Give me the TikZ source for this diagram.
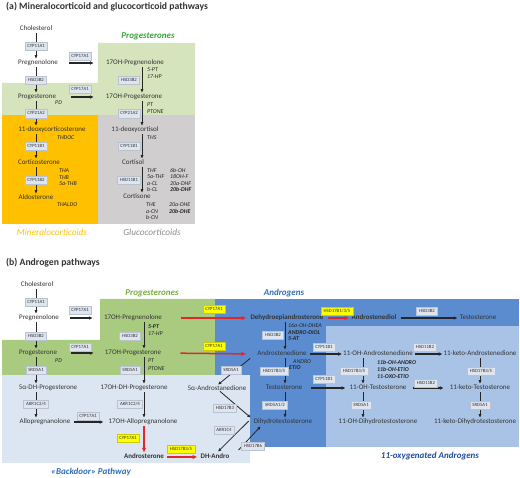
\documentclass[tikz,border=0pt]{standalone}
\usepackage{fontspec}
\setmainfont{Carlito}
\usetikzlibrary{arrows.meta}
\definecolor{txt}{HTML}{333333}
\definecolor{txtd}{HTML}{262626}
\definecolor{ln}{HTML}{262626}
\definecolor{enzf}{HTML}{DFE5EF}
\definecolor{enzd}{HTML}{B9C2D0}
\definecolor{greenA}{HTML}{D6E4BE}
\definecolor{orangeA}{HTML}{FFC000}
\definecolor{grayA}{HTML}{D0CECE}
\definecolor{greenB}{HTML}{A9CB80}
\definecolor{blueM}{HTML}{5B8CCF}
\definecolor{blueL}{HTML}{A8C3E6}
\definecolor{blueVL}{HTML}{DCE6F2}
\definecolor{redc}{HTML}{E0282A}
\definecolor{yel}{HTML}{FFFF00}
\definecolor{ttl}{HTML}{333333}
\definecolor{grnA}{HTML}{3BA33B}
\definecolor{grnB}{HTML}{77AE3F}
\definecolor{orangeT}{HTML}{FFC000}
\definecolor{grayT}{HTML}{8C8C8C}
\definecolor{blueT}{HTML}{2F6EBA}
\definecolor{blueT2}{HTML}{1F4F99}
\begin{document}
\begin{tikzpicture}[x=1pt,y=-1pt,
  mt/.style={font=\fontsize{7}{8}\selectfont, text=txt, inner sep=1pt, text height=4.9pt, text depth=1.4pt},
  mtb/.style={mt, font=\fontsize{7}{8}\selectfont\bfseries},
  lab/.style={font=\fontsize{5.9}{6.5}\selectfont\itshape, text=txtd, inner sep=0pt, anchor=west, text height=4.2pt, text depth=0.8pt},
  labb/.style={lab, font=\fontsize{5.9}{6.5}\selectfont\bfseries\itshape},
  enz/.style={font=\fontsize{4.8}{5}\selectfont, text=txt, fill=enzf, draw=enzd, line width=0.3pt, inner xsep=2.6pt, inner ysep=0pt, minimum height=8.5pt, text height=3.5pt, text depth=0.8pt},
  yenz/.style={enz, fill=yel, draw=yel!80!black},
  arr/.style={draw=ln, line width=0.8pt, -{Latex[length=3.4pt,width=3.2pt]}},
  harr/.style={draw=ln, line width=1.2pt, -{Latex[length=3.8pt,width=3.8pt]}},
  rarr/.style={draw=redc, line width=1.5pt, -{Latex[length=4.8pt,width=4.4pt]}},
  ttlsty/.style={font=\fontsize{9.7}{11}\selectfont\bfseries, text=ttl, anchor=west, inner sep=0pt},
  grp/.style={font=\fontsize{9}{10}\selectfont\bfseries\itshape, inner sep=0pt},
  grpi/.style={font=\fontsize{9.3}{10}\selectfont\itshape, inner sep=0pt}
]
\useasboundingbox (0,0) rectangle (520,478);
\fill[white] (0,0) rectangle (520,478);
% ---------- backgrounds (a)
\fill[greenA] (98,43) -- (195,43) -- (195,115) -- (2,115) -- (2,83) -- (98,83) -- cycle;
\fill[orangeA] (2,115) rectangle (98,224);
\fill[grayA] (98,115) rectangle (195,224);
% ---------- backgrounds (b)
\fill[greenB] (100,299) -- (215,299) -- (215,375) -- (2,375) -- (2,340) -- (100,340) -- cycle;
\fill[blueM] (215,299) rectangle (519,447);
\fill[blueL] (326,326) rectangle (519,447);
\fill[blueVL] (2,375) rectangle (250,463);
% columns
\coordinate (cA1) at (36,0);
\coordinate (cA2) at (142,0);
\coordinate (cB1) at (36,0);
\coordinate (cB2) at (144,0);
\coordinate (cB3) at (285,0);
\coordinate (cB4) at (363,0);
\coordinate (cB5) at (480,0);
% ---------- (a) texts
\node[ttlsty] (tA) at (6,6.5) {(a) Mineralocorticoid and glucocorticoid pathways};
\node[grp, text=grnA] (gA1) at (148,36) {Progesterones};
\node[grpi, text=orangeT] (gA2) at (52,232) {Mineralocorticoids};
\node[grpi, text=grayT] (gA3) at (152,232) {Glucocorticoids};
\node[mt] (aChol) at (36,29) {Cholesterol};
\node[mt] (aPreg) at (38,63) {Pregnenolone};
\node[mt] (aProg) at (37,97) {Progesterone};
\node[mt] (aDOC) at (52,130) {11-deoxycorticosterone};
\node[mt] (aCort) at (39,163) {Corticosterone};
\node[mt] (aAldo) at (36,198) {Aldosterone};
\node[mt] (a17Preg) at (135,63) {17OH-Pregnenolone};
\node[mt] (a17Prog) at (134,97) {17OH-Progesterone};
\node[mt] (aDOCol) at (135,130) {11-deoxycortisol};
\node[mt] (aCortisol) at (133,163) {Cortisol};
\node[mt] (aCortisone) at (137,197) {Cortisone};
\node[lab] (l1) at (55,103) {PD};
\node[lab] (l2) at (57,138) {THDOC};
\node[lab] (l3) at (59,171) {THA};
\node[lab] (l4) at (59,177.5) {THB};
\node[lab] (l5) at (59,184) {5a-THB};
\node[lab] (l6) at (57,205) {THALDO};
\node[lab] (l7) at (147,69.5) {5-PT};
\node[lab] (l8) at (147,76.5) {17-HP};
\node[lab] (l9) at (147,104.5) {PT};
\node[lab] (l10) at (147,111.5) {PTONE};
\node[lab] (l11) at (147,138) {THS};
\node[lab] (l12) at (147,171) {THF};
\node[lab] (l13) at (147,177.3) {5a-THF};
\node[lab] (l14) at (147,183.6) {a-CL};
\node[lab] (l15) at (147,190) {b-CL};
\node[lab] (l16) at (170,171) {6b-OH};
\node[lab] (l17) at (170,177.3) {18OH-F};
\node[lab] (l18) at (170,183.6) {20a-DHF};
\node[labb] (l19) at (170,190) {20b-DHF};
\node[lab] (l20) at (146,205) {THE};
\node[lab] (l21) at (146,211.5) {a-CN};
\node[lab] (l22) at (146,218) {b-CN};
\node[lab] (l23) at (169,205) {20a-DHE};
\node[labb] (l24) at (169,211.5) {20b-DHE};
% (a) arrows
\draw[arr] (aChol.south -| cA1) -- (aPreg.north -| cA1);
\draw[arr] (aPreg.south -| cA1) -- (aProg.north -| cA1);
\draw[arr] (aProg.south -| cA1) -- (aDOC.north -| cA1);
\draw[arr] (aDOC.south -| cA1) -- (aCort.north -| cA1);
\draw[arr] (aCort.south -| cA1) -- (aAldo.north -| cA1);
\draw[arr] (a17Preg.south -| cA2) -- (a17Prog.north -| cA2);
\draw[arr] (a17Prog.south -| cA2) -- (aDOCol.north -| cA2);
\draw[arr] (aDOCol.south -| cA2) -- (aCortisol.north -| cA2);
\draw[arr] (aCortisol.south -| cA2) -- (aCortisone.north -| cA2);
\draw[harr, shorten <=10pt, shorten >=11pt] (aPreg.east) -- (a17Preg.west);
\draw[harr, shorten <=14pt, shorten >=11pt] (aProg.east) -- (a17Prog.west);
% (a) enzymes
\node[enz] (eA1) at (36,46) {CYP11A1};
\node[enz] (eA2) at (36,80) {HSD3B2};
\node[enz] (eA3) at (36,113.5) {CYP21A2};
\node[enz] (eA4) at (36,146) {CYP11B1};
\node[enz] (eA5) at (36,180) {CYP11B2};
\node[enz] (eA6) at (80,56) {CYP17A1};
\node[enz] (eA7) at (80,89) {CYP17A1};
\node[enz] (eA8) at (129,80) {HSD3B2};
\node[enz] (eA9) at (129,113.5) {CYP21A2};
\node[enz] (eA10) at (129,146) {CYP11B1};
\node[enz] (eA11) at (129,180) {HSD11B1};
% ---------- (b) texts
\node[ttlsty] (tB) at (6,263) {(b) Androgen pathways};
\node[grp, text=grnB] (gB1) at (152,293) {Progesterones};
\node[grp, text=blueT] (gB2) at (284,293) {Androgens};
\node[grp, text=blueT2] (gB3) at (430,456) {11-oxygenated Androgens};
\node[grp, text=blueT] (gB4) at (91,472) {«Backdoor» Pathway};
\node[mt] (bChol) at (37,285) {Cholesterol};
\node[mt] (bPreg) at (39,318) {Pregnenolone};
\node[mt] (bProg) at (38,353) {Progesterone};
\node[mt] (b5aDHP) at (48,388) {5α-DH-Progesterone};
\node[mt] (bAllo) at (45,422) {Allopregnanolone};
\node[mt] (b17Preg) at (133,318) {17OH-Pregnenolone};
\node[mt] (b17Prog) at (133,353) {17OH-Progesterone};
\node[mt] (b17DHP) at (134,388) {17OH-DH-Progesterone};
\node[mt] (b17Allo) at (143,422) {17OH-Allopregnanolone};
\node[mtb] (bAndrost) at (144,457) {Androsterone};
\node[mtb] (bDHAndro) at (215,457) {DH-Andro};
\node[mt] (b5aAd) at (217,389) {5α-Androstanedione};
\node[mtb] (bDHEA) at (287,318) {Dehydroepiandrosterone};
\node[mtb] (bAdiol) at (374,318) {Androstenediol};
\node[mt] (bTesto1) at (478,318) {Testosterone};
\node[mt] (bAdione) at (282,354) {Androstenedione};
\node[mt] (bTesto) at (284,388) {Testosterone};
\node[mt] (bDHT) at (283,422) {Dihydrotestosterone};
\node[mt] (b11OHA) at (378,354) {11-OH-Androstenedione};
\node[mt] (b11KA) at (480,354) {11-keto-Androstenedione};
\node[mt] (b11OHT) at (378,388) {11-OH-Testosterone};
\node[mt] (b11KT) at (480,388) {11-keto-Testosterone};
\node[mt] (b11OHD) at (378,422) {11-OH-Dihydrotestosterone};
\node[mt] (b11KD) at (475,422) {11-keto-Dihydrotestosterone};
\node[lab] (m1) at (55,361) {PD};
\node[labb] (m2) at (148,327) {5-PT};
\node[lab] (m3) at (148,333.5) {17-HP};
\node[lab] (m4) at (148,361) {PT};
\node[lab] (m5) at (148,368.5) {PTONE};
\node[lab] (m6) at (288,326) {16a-OH-DHEA};
\node[labb] (m7) at (288,332.5) {ANDRO-DIOL};
\node[labb] (m8) at (288,339) {5-AT};
\node[lab] (m9) at (293,361.5) {ANDRO};
\node[labb] (m10) at (289,368) {ETIO};
\node[labb] (m11) at (377,363) {11b-OH-ANDRO};
\node[labb] (m12) at (377,370) {11b-OH-ETIO};
\node[labb] (m13) at (377,377) {11-OXO-ETIO};
% (b) arrows
\draw[arr] (bChol.south -| cB1) -- (bPreg.north -| cB1);
\draw[arr] (bPreg.south -| cB1) -- (bProg.north -| cB1);
\draw[arr] (bProg.south -| cB1) -- (b5aDHP.north -| cB1);
\draw[arr] (b5aDHP.south -| cB1) -- (bAllo.north -| cB1);
\draw[arr] (b17Preg.south -| cB2) -- (b17Prog.north -| cB2);
\draw[arr] (b17Prog.south -| cB2) -- (b17DHP.north -| cB2);
\draw[arr] (b17DHP.south -| cB2) -- (b17Allo.north -| cB2);
\draw[rarr] (b17Allo.south -| cB2) -- (bAndrost.north -| cB2);
\draw[harr, shorten <=10pt, shorten >=10pt] (bPreg.east) -- (b17Preg.west);
\draw[harr, shorten <=13pt, shorten >=10pt] (bProg.east) -- (b17Prog.west);
\draw[harr, shorten <=2pt, shorten >=4pt] (bAllo.east) -- (b17Allo.west);
\draw[rarr, shorten <=18pt, shorten >=3pt] (b17Preg.east) -- (bDHEA.west);
\draw[rarr, shorten <=18pt, shorten >=10pt] (b17Prog.east) -- (bAdione.west);
\draw[rarr, shorten <=2pt, shorten >=2pt] (bAndrost.east) -- (bDHAndro.west);
\draw[rarr, shorten <=3pt, shorten >=1pt] (bDHEA.east) -- (bAdiol.west);
\draw[harr, shorten <=3pt, shorten >=1pt] (bAdiol.east) -- (bTesto1.west);
\draw[arr] (bDHEA.south -| cB3) -- (bAdione.north -| cB3);
\draw[arr] (bAdione.south -| cB3) -- (bTesto.north -| cB3);
\draw[arr] (bTesto.south -| cB3) -- (bDHT.north -| cB3);
\draw[harr, shorten <=2pt, shorten >=0pt] (bAdione.east) -- (b11OHA.west);
\draw[harr, shorten <=1pt, shorten >=0pt] (b11OHA.east) -- (b11KA.west);
\draw[harr, shorten <=8pt, shorten >=3pt] (bTesto.east) -- (b11OHT.west);
\draw[harr, shorten <=5pt, shorten >=5pt] (b11OHT.east) -- (b11KT.west);
\draw[arr] (b11OHA.south -| cB4) -- (b11OHT.north -| cB4);
\draw[arr] (b11OHT.south -| cB4) -- (b11OHD.north -| cB4);
\draw[arr] (b11KA.south -| cB5) -- (b11KT.north -| cB5);
\draw[arr] (b11KT.south -| cB5) -- (b11KD.north -| cB5);
\draw[arr] ([xshift=-6pt]bAdione.south west) -- ([xshift=1pt]b5aAd.north);
\draw[arr] ([xshift=3pt,yshift=2pt]b5aAd.south) -- ([xshift=-2pt]bDHT.north west);
\draw[arr] ([xshift=-4pt,yshift=1pt]bDHT.west) -- ([xshift=3pt,yshift=1pt]bDHAndro.north);
\draw[arr] ([xshift=8pt,yshift=7pt]bDHAndro.east) -- ([xshift=8pt]bDHT.south west);
% (b) enzymes
\node[enz] (eB1) at (36,302) {CYP11A1};
\node[enz] (eB2) at (80,310) {CYP17A1};
\node[enz] (eB3) at (36,336) {HSD3B2};
\node[enz] (eB4) at (80,347) {CYP17A1};
\node[enz] (eB5) at (36,370) {SRD5A1};
\node[enz] (eB6) at (36,404) {AKR1C2/4};
\node[enz] (eB7) at (88,416) {CYP17A1};
\node[enz] (eB8) at (130,336) {HSD3B2};
\node[enz] (eB9) at (130,370) {SRD5A1};
\node[enz] (eB10) at (130,404) {AKR1C2/4};
\node[yenz] (eB11) at (128,438) {CYP17A1};
\node[yenz] (eB12) at (214,309) {CYP17A1};
\node[yenz] (eB13) at (214,346) {CYP17A1};
\node[enz] (eB14) at (231,370) {SRD5A1};
\node[yenz] (eB15) at (181,449) {HSD17B3/5};
\node[enz] (eB16) at (225,408) {HSD17B3};
\node[enz] (eB17) at (224,430) {AKR1C4};
\node[enz] (eB18) at (253,446) {HSD17B6};
\node[enz] (eB19) at (273,335) {HSD3B2};
\node[enz] (eB20) at (274,371) {HSD17B3/5};
\node[enz] (eB21) at (275,405) {SRD5A1/2};
\node[yenz] (eB22) at (337,311) {HSD17B1/3/5};
\node[enz] (eB23) at (427,311) {HSD3B2};
\node[enz] (eB24) at (324,347) {CYP11B1};
\node[enz] (eB25) at (425,347) {HSD11B2};
\node[enz] (eB26) at (354,371) {HSD17B3/5};
\node[enz] (eB27) at (481,371) {HSD17B3/5};
\node[enz] (eB28) at (324,379) {CYP11B1};
\node[enz] (eB29) at (426,383) {HSD11B2};
\node[enz] (eB30) at (361,405) {SRD5A1};
\node[enz] (eB31) at (480,405) {SRD5A1};
\end{tikzpicture}
\end{document}
